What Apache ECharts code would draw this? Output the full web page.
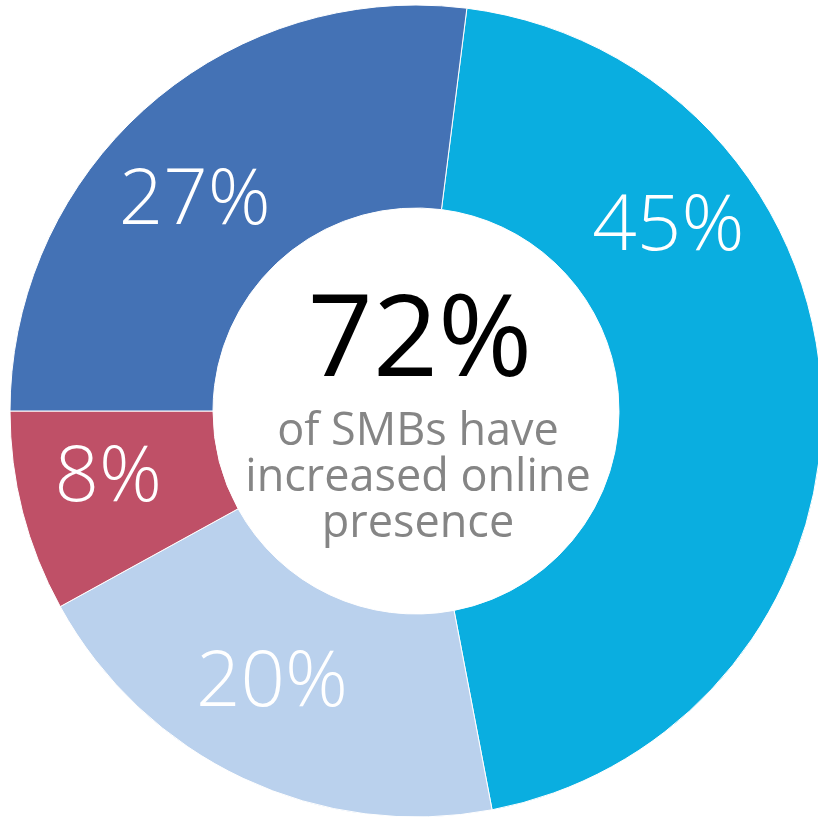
<!DOCTYPE html>
<html>
<head>
<meta charset="utf-8">
<script src="https://cdn.jsdelivr.net/npm/echarts@6/dist/echarts.min.js"></script>
<style>
html,body{margin:0;padding:0;background:#fff;}
#chart{width:818px;height:826px;}
</style>
</head>
<body>
<div id="chart"></div>
<script>
const categories = ['Segment A', 'Segment B', 'Segment C', 'Segment D'];
const values = [45, 20, 8, 27];
const sliceColors = ['#0AAEE0', '#BAD1ED', '#BF5067', '#4472B5'];
const labelOffsets = [[-55, -174], [-13, -5], [-10, -9], [-18, 21]];
const centerValue = '72%';
const centerLines = ['of SMBs have', 'increased online', 'presence'];

const chart = echarts.init(document.getElementById('chart'), null, {renderer: 'canvas'});
const FONT = '"Open Sans", Lato, "Noto Sans", sans-serif';

const option = {
  animation: false,
  backgroundColor: '#ffffff',
  series: [{
    type: 'pie',
    center: [416, 411],
    radius: [203, 406],
    startAngle: 82.8,
    clockwise: true,
    avoidLabelOverlap: false,
    itemStyle: {borderColor: '#ffffff', borderWidth: 1},
    label: {
      show: true,
      position: 'inside',
      formatter: '{c}%',
      color: '#ffffff',
      fontFamily: FONT,
      fontWeight: 300,
      fontSize: 78
    },
    labelLine: {show: false},
    emphasis: {disabled: true},
    data: categories.map((name, i) => ({
      name: name,
      value: values[i],
      itemStyle: {color: sliceColors[i]},
      label: {offset: labelOffsets[i]}
    }))
  }],
  graphic: [
    {
      type: 'text', x: 420, y: 344,
      style: {text: centerValue, fill: '#000000', font: '400 114px ' + FONT, textAlign: 'center', textVerticalAlign: 'middle'}
    },
    {
      type: 'text', x: 418, y: 432,
      style: {text: centerLines[0], fill: '#858585', font: '400 45px ' + FONT, textAlign: 'center', textVerticalAlign: 'middle'}
    },
    {
      type: 'text', x: 418, y: 478,
      style: {text: centerLines[1], fill: '#858585', font: '400 45px ' + FONT, textAlign: 'center', textVerticalAlign: 'middle'}
    },
    {
      type: 'text', x: 418, y: 524,
      style: {text: centerLines[2], fill: '#858585', font: '400 45px ' + FONT, textAlign: 'center', textVerticalAlign: 'middle'}
    }
  ]
};
chart.setOption(option);
</script>
</body>
</html>
